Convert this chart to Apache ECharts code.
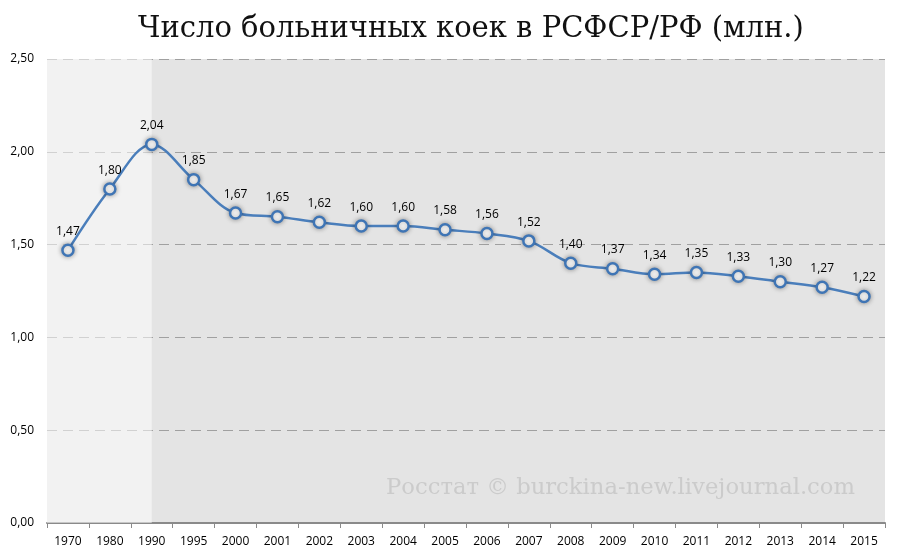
<!DOCTYPE html>
<html>
<head>
<meta charset="utf-8">
<script src="https://cdn.jsdelivr.net/npm/echarts@6/dist/echarts.min.js"></script>
<style>
html, body { margin: 0; padding: 0; background: #fff; }
#main { width: 900px; height: 559px; }
</style>
</head>
<body>
<div id="main"></div>
<script>
var years = ['1970', '1980', '1990', '1995', '2000', '2001', '2002', '2003', '2004', '2005',
	'2006', '2007', '2008', '2009', '2010', '2011', '2012', '2013', '2014', '2015'];
var beds = [1.47, 1.80, 2.04, 1.85, 1.67, 1.65, 1.62, 1.60, 1.60, 1.58,
	1.56, 1.52, 1.40, 1.37, 1.34, 1.35, 1.33, 1.30, 1.27, 1.22];
var lightUntil = '1990'; // светлый фон до середины этой категории

function fmt(v) {
	return v.toFixed(2).replace('.', ',');
}

var myChart = echarts.init(document.getElementById('main'));

var option = {
	backgroundColor: '#ffffff',
	animation: false,
	title: {
		text: 'Число больничных коек в РСФСР/РФ (млн.)',
		left: 133,
		top: 10,
		textStyle: {
			fontFamily: 'DejaVu Serif',
			fontSize: 29,
			fontWeight: 'normal',
			color: '#111'
		}
	},
	grid: {
		left: 47,
		right: 15,
		top: 59,
		bottom: 36,
		show: true,
		borderWidth: 0,
		backgroundColor: '#e4e4e4'
	},
	xAxis: [{
		type: 'category',
		data: years,
		boundaryGap: true,
		axisLine: { lineStyle: { color: '#8a8a8a', width: 2 } },
		axisTick: { show: true, length: 5, lineStyle: { color: '#8a8a8a' } },
		axisLabel: {
			color: '#000',
			fontFamily: 'Open Sans',
			fontSize: 12,
			margin: 13
		}
	}, {
		// скрытая ось для фоновой полосы
		type: 'value',
		min: 0,
		max: years.length,
		show: false
	}],
	yAxis: {
		type: 'value',
		min: 0,
		max: 2.5,
		interval: 0.5,
		axisLine: { show: false },
		axisTick: { show: false },
		axisLabel: {
			color: '#000',
			fontFamily: 'Open Sans',
			fontSize: 12,
			margin: 13,
			formatter: fmt
		},
		splitLine: {
			lineStyle: { color: '#a0a0a0', type: [10, 6], width: 1 }
		}
	},
	graphic: [{
		type: 'text',
		right: 45,
		top: 477,
		z: 100,
		style: {
			text: 'Росстат © burckina-new.livejournal.com',
			font: '22.7px "DejaVu Serif"',
			fill: '#cbcbcb'
		}
	}],
	series: [{
		type: 'line',
		xAxisIndex: 1,
		data: [],
		silent: true,
		markArea: {
			silent: true,
			itemStyle: { color: 'rgba(255,255,255,0.52)' },
			data: [[{ xAxis: 0 }, { xAxis: years.indexOf(lightUntil) + 0.5 }]]
		}
	}, {
		type: 'line',
		data: beds,
		smooth: 0.35,
		symbol: 'circle',
		symbolSize: 11,
		lineStyle: { color: '#4a7ebb', width: 2.5 },
		itemStyle: {
			color: '#ffffff',
			borderColor: '#3f75b5',
			borderWidth: 2.5,
			shadowColor: 'rgba(0,0,0,0.35)',
			shadowBlur: 5
		},
		label: {
			show: true,
			position: 'top',
			distance: 6,
			color: '#000',
			fontFamily: 'Open Sans',
			fontSize: 12,
			formatter: function (p) { return fmt(p.value); }
		}
	}]
};

myChart.setOption(option);
</script>
</body>
</html>
